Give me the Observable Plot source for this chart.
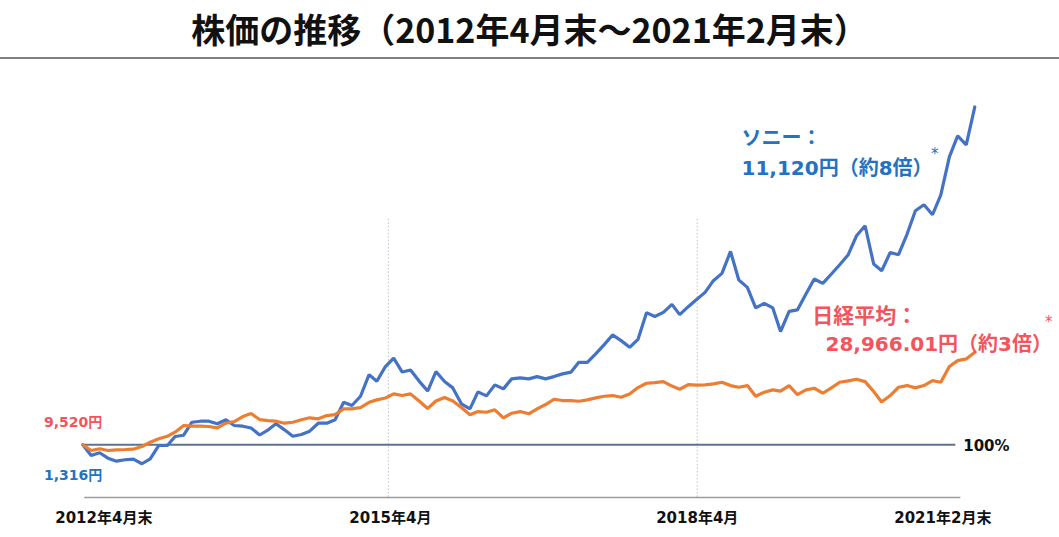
<!DOCTYPE html>
<html><head><meta charset="utf-8">
<script src="https://cdn.jsdelivr.net/npm/d3@7"></script>
<script src="https://cdn.jsdelivr.net/npm/@observablehq/plot@0.6"></script>
<style>
body{margin:0;background:#fff;font-family:"Noto Sans CJK JP",sans-serif;}
#title{height:57px;border-bottom:2px solid #7f7f7f;text-align:center;font-weight:bold;font-size:34px;line-height:58px;color:#111;box-sizing:content-box;overflow:hidden;}
#chart svg{display:block;}
</style></head><body>
<div id="title">株価の推移（2012年4月末～2021年2月末）</div>
<div id="chart"></div>
<script>
// Months: end of April 2012 … end of February 2021 (monthly)
const startMonth = [2012, 3];   // April 2012 (0-based month)
const endMonth = [2021, 1];     // February 2021
// Sony share price, % of April 2012 (1,316円 = 100%)
const sonyPct = [100,76.4,82.4,70.5,63.9,67.0,68.3,58.2,69.2,98.5,
98.5,118.3,121.1,149.8,152.0,152.0,146.3,155.1,142.5,141.0,
137.0,121.6,133.0,146.3,133.0,118.9,122.7,130.0,147.6,147.6,
155.1,193.8,186.6,207.0,254.8,240.1,272.5,291.2,260.4,264.8,
240.5,218.5,261.5,239.4,225.5,190.3,179.3,216.7,207.9,232.2,
223.3,245.4,247.6,245.4,250.4,245.4,250.4,256.4,260.4,281.9,
281.9,300.4,320.9,342.3,329.7,315.0,332.4,391.4,383.0,392.1,
409.7,387.0,404.6,420.5,436.1,461.9,478.0,526.4,463.4,447.1,
401.8,411.9,401.8,349.6,394.3,397.4,432.6,465.6,455.9,476.6,
497.1,519.2,561.0,583.0,498.7,483.9,524.2,519.2,564.7,616.1,
629.3,607.3,651.3,735.0,781.3,761.4,845.0];
// Nikkei 225, % of April 2012 (9,520円 = 100%)
const nikkeiPct = [100,87.4,91.2,87.4,89.0,89.6,90.3,96.3,105.7,113.2,
118.9,127.8,142.5,141.0,141.0,140.3,137.4,147.6,151.3,162.3,
168.9,155.7,153.5,152.0,147.6,149.8,155.1,159.5,157.3,164.5,
166.7,179.3,179.3,182.2,193.8,199.1,203.1,212.3,208.6,212.3,
196.5,180.0,196.5,204.2,196.5,182.2,166.1,173.3,171.8,177.1,
159.5,169.6,173.3,168.3,179.3,188.8,200.4,197.6,197.6,196.0,
199.1,203.5,207.0,208.6,204.8,211.9,226.2,235.7,237.2,239.4,
229.5,222.5,232.8,231.7,232.2,234.4,237.9,230.6,226.9,230.6,
207.0,215.9,221.1,218.5,230.6,210.8,221.1,224.7,213.7,225.5,
237.9,241.0,244.5,239.4,217.4,194.3,208.6,226.9,230.6,225.5,
230.6,241.6,237.9,272.5,285.7,289.4,304.3];
// Gridline dates and tick labels
const gridMonths = [[2015, 3], [2018, 3]];
const tickLabels = ["2012年4月末", "2015年4月", "2018年4月", "2021年2月末"];
const startPriceLabels = ["9,520円", "1,316円"];
const baseLabel = "100%";
const sonyLabel = ["ソニー：", "11,120円（約8倍）"];
const nikkeiLabel = ["日経平均：", "28,966.01円（約3倍）"];

const months = d3.utcMonths(new Date(Date.UTC(...startMonth)), d3.utcMonth.offset(new Date(Date.UTC(...endMonth)), 1));
const rows = months.map((d, i) => ({date: d, sony: sonyPct[i], nikkei: nikkeiPct[i]}));
const gridDates = gridMonths.map(m => new Date(Date.UTC(...m)));
const yMin = -16, yMax = 850, gridTop = 600;

const blueText = "#2373c0", redText = "#f2555c";
const numFont = '"DejaVu Sans", "Noto Sans CJK JP", sans-serif';
const cjkFont = '"Noto Sans CJK JP", sans-serif';
const first = months[0], last = months[months.length - 1];

const chart = Plot.plot({
  width: 1059, height: 478,
  marginLeft: 82.3, marginRight: 84.7, marginTop: 45.2, marginBottom: 40.1,
  x: {type: "utc", domain: [first, last], axis: null},
  y: {domain: [yMin, yMax], axis: null},
  style: {fontFamily: cjkFont, background: "#fff", overflow: "visible"},
  marks: [
    Plot.ruleX([gridDates[0]], {y1: yMin, y2: gridTop, dx: 3, stroke: "#b9c3d0", strokeDasharray: "1.5,2", strokeWidth: 1}),
    Plot.ruleX([gridDates[1]], {y1: yMin, y2: gridTop, dx: 9, stroke: "#b9c3d0", strokeDasharray: "1.5,2", strokeWidth: 1}),
    Plot.ruleY([yMin], {stroke: "#9c9c9c", strokeWidth: 1.5, insetLeft: 2, insetRight: 14}),
    Plot.ruleY([100], {stroke: "#5f7390", strokeWidth: 2, insetRight: 19}),
    Plot.line(rows, {x: "date", y: "sony", stroke: "#4472C4", strokeWidth: 3.2, strokeLinejoin: "miter"}),
    Plot.line(rows, {x: "date", y: "nikkei", stroke: "#ED7D31", strokeWidth: 3.2, strokeLinejoin: "miter"}),
    // x tick labels
    Plot.text([tickLabels[0]], {x: () => first, frameAnchor: "bottom", dy: 26, dx: 21, fontFamily: numFont, fontWeight: "bold", fontSize: 15, fill: "#111"}),
    Plot.text([tickLabels[1]], {x: () => gridDates[0], frameAnchor: "bottom", dy: 26, dx: 5, fontFamily: numFont, fontWeight: "bold", fontSize: 15, fill: "#111"}),
    Plot.text([tickLabels[2]], {x: () => gridDates[1], frameAnchor: "bottom", dy: 26, dx: 9, fontFamily: numFont, fontWeight: "bold", fontSize: 15, fill: "#111"}),
    Plot.text([tickLabels[3]], {x: () => last, frameAnchor: "bottom", dy: 26, dx: -32, fontFamily: numFont, fontWeight: "bold", fontSize: 15, fill: "#111"}),
    // 100% label
    Plot.text([baseLabel], {x: () => last, y: () => 100, dx: -11.6, dy: 1, textAnchor: "start", fontFamily: numFont, fontWeight: "bold", fontSize: 15, fill: "#111"}),
    // start prices
    Plot.text([startPriceLabels[0]], {x: () => first, y: () => 100, dx: 19.4, dy: -22, textAnchor: "end", fontFamily: numFont, fontWeight: "bold", fontSize: 14, fill: redText}),
    Plot.text([startPriceLabels[1]], {x: () => first, y: () => 100, dx: 19.4, dy: 30.5, textAnchor: "end", fontFamily: numFont, fontWeight: "bold", fontSize: 14, fill: blueText}),
    // Sony annotation
    Plot.text([sonyLabel[0]], {frameAnchor: "top-left", dx: 658.7, dy: 25.8, textAnchor: "start", fontFamily: cjkFont, fontWeight: "bold", fontSize: 20, fill: blueText}),
    Plot.text([sonyLabel[1]], {frameAnchor: "top-left", dx: 658.7, dy: 55.8, textAnchor: "start", fontFamily: numFont, fontWeight: "bold", fontSize: 20, fill: blueText}),
    Plot.text(["*"], {frameAnchor: "top-left", dx: 852, dy: 44, textAnchor: "middle", fontFamily: numFont, fontSize: 15, fill: blueText}),
    // Nikkei annotation
    Plot.text([nikkeiLabel[0]], {frameAnchor: "top-left", dx: 729.4, dy: 203.3, textAnchor: "start", fontFamily: cjkFont, fontWeight: "bold", fontSize: 21, fill: redText}),
    Plot.text([nikkeiLabel[1]], {frameAnchor: "top-left", dx: 742.7, dy: 232.5, textAnchor: "start", fontFamily: numFont, fontWeight: "bold", fontSize: 20, fill: redText}),
    Plot.text(["*"], {frameAnchor: "top-left", dx: 966, dy: 212, textAnchor: "middle", fontFamily: numFont, fontSize: 15, fill: redText})
  ]
});
document.getElementById("chart").appendChild(chart);
</script>
</body></html>
